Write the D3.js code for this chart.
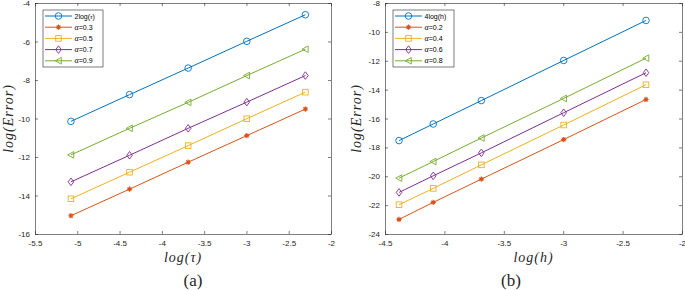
<!DOCTYPE html>
<html>
<head>
<meta charset="utf-8">
<script src="https://cdn.jsdelivr.net/npm/d3@7"></script>
<style>
  body { margin: 0; background: #fff; }
  svg { display: block; }
</style>
</head>
<body>
<svg id="chart" width="685" height="290"></svg>
<script>
// panel (a): time step tau = 1/10 ... 1/160
var tauX = [-5.075, -4.382, -3.689, -2.996, -2.303];
var refA = [-10.15, -8.76, -7.38, -5.99, -4.61];
var a03 = [-15.05, -13.67, -12.27, -10.89, -9.51];
var a05 = [-14.17, -12.79, -11.41, -10.01, -8.63];
var a07 = [-13.29, -11.91, -10.51, -9.15, -7.77];
var a09 = [-11.89, -10.51, -9.16, -7.77, -6.40];
var namesA = ["2log(τ)", "α=0.3", "α=0.5", "α=0.7", "α=0.9"];

// panel (b): space step h = 1/10 ... 1/80
var hX = [-4.382, -4.094, -3.689, -2.996, -2.303];
var refB = [-17.53, -16.38, -14.76, -11.98, -9.21];
var a02 = [-22.99, -21.81, -20.20, -17.46, -14.68];
var a04 = [-21.97, -20.84, -19.21, -16.45, -13.66];
var a06 = [-21.12, -19.97, -18.38, -15.60, -12.83];
var a08 = [-20.13, -18.98, -17.35, -14.61, -11.82];
var namesB = ["4log(h)", "α=0.2", "α=0.4", "α=0.6", "α=0.8"];

var colors = ["#0072BD", "#D95319", "#EDB120", "#7E2F8E", "#77AC30"];
var markers = ["circle", "star", "square", "diamond", "triangle"];

var SANS = "Liberation Sans";
var SERIF = "Liberation Serif";

var svg = d3.select('#chart');

// draw one marker shape centred at 0,0
function drawMarker(g, type, color) {
    if (type === 'circle') {
        g.append('circle').attr('r', 3.3).attr('fill', 'none').attr('stroke', color).attr('stroke-width', 0.9);
    } else if (type === 'square') {
        g.append('rect').attr('x', -2.8).attr('y', -2.8).attr('width', 5.6).attr('height', 5.6)
            .attr('fill', 'none').attr('stroke', color).attr('stroke-width', 0.9);
    } else if (type === 'diamond') {
        g.append('path').attr('d', 'M0,-3.8L2.8,0L0,3.8L-2.8,0Z').attr('fill', 'none').attr('stroke', color).attr('stroke-width', 0.9);
    } else if (type === 'triangle') {
        g.append('path').attr('d', 'M-3.3,0L2.8,-3.3L2.8,3.3Z').attr('fill', 'none').attr('stroke', color).attr('stroke-width', 0.9);
    } else {
        // asterisk
        var p = '';
        for (var k = 0; k < 4; k++) {
            var a = k * Math.PI / 4;
            p += 'M' + (-2.6 * Math.cos(a)) + ',' + (-2.6 * Math.sin(a)) + 'L' + (2.6 * Math.cos(a)) + ',' + (2.6 * Math.sin(a));
        }
        g.append('path').attr('d', p).attr('stroke', color).attr('stroke-width', 1.1);
    }
}

function legendText(t, name) {
    if (name.indexOf('α') === 0) {
        t.append('tspan').attr('font-family', SERIF).attr('font-style', 'italic').attr('font-size', 8).text('α');
        t.append('tspan').text(name.slice(1));
    } else {
        var i = name.indexOf('(');
        t.append('tspan').text(name.slice(0, i + 1));
        var v = name.slice(i + 1, name.length - 1);
        var s = t.append('tspan').text(v);
        if (v === 'τ') s.attr('font-family', SERIF).attr('font-style', 'italic');
        t.append('tspan').text(')');
    }
}

function panel(cfg) {
    var x = d3.scaleLinear().domain(cfg.xdom).range([cfg.left, cfg.right]);
    var y = d3.scaleLinear().domain(cfg.ydom).range([cfg.bottom, cfg.top]);
    var g = svg.append('g');

    var xt = d3.range(cfg.xdom[0], cfg.xdom[1] + 0.001, 0.5);
    var yt = d3.range(cfg.ydom[0], cfg.ydom[1] + 0.001, 2);
    var fmt = d => (d < 0 ? '-' : '') + Math.abs(+d.toFixed(1));

    g.append('g').attr('transform', 'translate(0,' + cfg.bottom + ')')
        .call(d3.axisBottom(x).tickValues(xt).tickFormat(fmt).tickSizeInner(-3).tickSizeOuter(0).tickPadding(6));
    g.append('g').attr('transform', 'translate(0,' + cfg.top + ')')
        .call(d3.axisTop(x).tickValues(xt).tickFormat('').tickSizeInner(-3).tickSizeOuter(0));
    g.append('g').attr('transform', 'translate(' + cfg.left + ',0)')
        .call(d3.axisLeft(y).tickValues(yt).tickFormat(fmt).tickSizeInner(-3).tickSizeOuter(0).tickPadding(5));
    g.append('g').attr('transform', 'translate(' + cfg.right + ',0)')
        .call(d3.axisRight(y).tickValues(yt).tickFormat('').tickSizeInner(-3).tickSizeOuter(0));
    g.selectAll('g').attr('font-family', SANS).attr('font-size', 8);
    g.selectAll('.tick text').attr('fill', '#262626');
    g.selectAll('.domain, .tick line').attr('stroke', '#262626').attr('stroke-width', 0.6);

    var line = d3.line().x((d, i) => x(cfg.xs[i])).y(d => y(d));
    cfg.series.forEach(function (s, si) {
        g.append('path').attr('d', line(s)).attr('fill', 'none').attr('stroke', colors[si]).attr('stroke-width', 1);
        s.forEach(function (v, i) {
            var m = g.append('g').attr('transform', 'translate(' + x(cfg.xs[i]) + ',' + y(v) + ')');
            drawMarker(m, markers[si], colors[si]);
        });
    });

    // legend
    var lg = g.append('g').attr('transform', 'translate(' + cfg.legX + ',' + cfg.legY + ')');
    lg.append('rect').attr('width', cfg.legW).attr('height', 57).attr('fill', '#fff')
        .attr('stroke', '#262626').attr('stroke-width', 0.6);
    cfg.names.forEach(function (n, i) {
        var yy = 6 + i * 11.2;
        lg.append('line').attr('x1', 2).attr('x2', 29).attr('y1', yy).attr('y2', yy)
            .attr('stroke', colors[i]).attr('stroke-width', 1);
        var m = lg.append('g').attr('transform', 'translate(15.5,' + yy + ')');
        drawMarker(m, markers[i], colors[i]);
        var t = lg.append('text').attr('x', 31.5).attr('y', yy + 2.6)
            .attr('font-family', SANS).attr('font-size', 7).attr('fill', '#000');
        legendText(t, n);
    });

    // axis labels
    svg.append('text')
        .attr('transform', 'translate(' + cfg.ylabX + ',' + ((cfg.top + cfg.bottom) / 2) + ') rotate(-90)')
        .attr('text-anchor', 'middle').attr('font-family', SERIF).attr('font-size', 14)
        .attr('font-style', 'italic').attr('letter-spacing', 1).attr('fill', '#262626')
        .text('log(Error)');
    svg.append('text').attr('x', (cfg.left + cfg.right) / 2).attr('y', 262)
        .attr('text-anchor', 'middle').attr('font-family', SERIF).attr('font-size', 14)
        .attr('font-style', 'italic').attr('letter-spacing', 1).attr('fill', '#262626')
        .text(cfg.xlab);
    svg.append('text').attr('x', cfg.capX).attr('y', 286)
        .attr('text-anchor', 'middle').attr('font-family', SERIF).attr('font-size', 17).attr('fill', '#262626')
        .text(cfg.cap);
}

panel({
    xdom: [-5.5, -2], ydom: [-16, -4], left: 35, right: 331, top: 3, bottom: 234,
    xs: tauX, series: [refA, a03, a05, a07, a09], names: namesA,
    legX: 43, legY: 10, legW: 60, ylabX: 13, xlab: 'log(τ)', capX: 193, cap: '(a)'
});
panel({
    xdom: [-4.5, -2], ydom: [-24, -8], left: 385, right: 682, top: 3, bottom: 234,
    xs: hX, series: [refB, a02, a04, a06, a08], names: namesB,
    legX: 393, legY: 10, legW: 61, ylabX: 361, xlab: 'log(h)', capX: 511, cap: '(b)'
});
</script>
</body>
</html>
